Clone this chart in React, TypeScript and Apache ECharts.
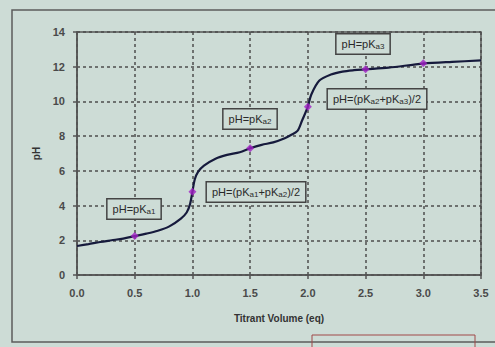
import React, { useEffect, useRef } from "react";
import * as echarts from "echarts";

// Titration curve (volume in eq, pH)
const volume = [0, 0.1, 0.2, 0.3, 0.4, 0.5, 0.6, 0.7, 0.8, 0.9, 0.95, 0.98, 1.0, 1.02, 1.05, 1.1, 1.2, 1.3, 1.41, 1.5, 1.6, 1.7, 1.8, 1.85, 1.91, 1.95, 2.0, 2.03, 2.1, 2.2, 2.3, 2.4, 2.5, 2.7, 3.0, 3.25, 3.5];
const pH = [1.67, 1.78, 1.9, 2.0, 2.1, 2.24, 2.38, 2.55, 2.8, 3.25, 3.6, 4.1, 4.8, 5.5, 5.95, 6.3, 6.7, 6.92, 7.07, 7.3, 7.5, 7.64, 7.88, 8.05, 8.3, 8.9, 9.7, 10.4, 11.2, 11.55, 11.72, 11.8, 11.85, 11.95, 12.18, 12.28, 12.36];

// Marked half-equivalence / equivalence points
const markVolume = [0.5, 1.0, 1.5, 2.0, 2.5, 3.0];
const markPH = [2.24, 4.8, 7.3, 9.7, 11.85, 12.2];

const annotations = [
  "pH=pK{s|a1}",
  "pH=(pK{s|a1}+pK{s|a2})/2",
  "pH=pK{s|a2}",
  "pH=(pK{s|a2}+pK{s|a3})/2",
  "pH=pK{s|a3}",
];
const annotationPos: [number, number][] = [
  [134, 209],
  [256, 192],
  [250, 119],
  [377, 99],
  [363, 44],
];

const xAxisTitle = "Titrant Volume (eq)";
const yAxisTitle = "pH";

export default function App() {
  const ref = useRef<HTMLDivElement>(null);
  useEffect(() => {
    if (!ref.current) return;
    const chart = echarts.init(ref.current, null, { renderer: "svg" });
    const font = "'Liberation Sans', Arial, sans-serif";
    const gridLine = { show: true, lineStyle: { color: "#4e4e4e", type: [3, 3] as any, width: 1.5 } };
    chart.setOption({
      animation: false,
      backgroundColor: "#cddcd6",
      textStyle: { fontFamily: font },
      grid: {
        left: 77,
        right: 14,
        top: 32,
        bottom: 72,
        show: true,
        borderColor: "#555",
        borderWidth: 1.5,
        backgroundColor: "transparent",
      },
      xAxis: {
        type: "value",
        min: 0,
        max: 3.5,
        interval: 0.5,
        name: xAxisTitle,
        nameLocation: "middle",
        nameGap: 38,
        nameTextStyle: { fontSize: 10, fontWeight: "bold", color: "#333", fontFamily: font },
        axisLine: { show: true, lineStyle: { color: "#555", width: 1.5 } },
        axisTick: { show: true, length: 4, lineStyle: { color: "#555", width: 1.5 } },
        axisLabel: {
          formatter: (v: number) => v.toFixed(1),
          fontSize: 11,
          fontWeight: "bold",
          color: "#4a4a4a",
          margin: 12,
          fontFamily: font,
        },
        splitLine: gridLine,
      },
      yAxis: {
        type: "value",
        min: 0,
        max: 14,
        interval: 2,
        name: yAxisTitle,
        nameLocation: "middle",
        nameGap: 32,
        nameRotate: 90,
        nameTextStyle: { fontSize: 10, fontWeight: "bold", color: "#333", fontFamily: font },
        axisLine: { show: true, lineStyle: { color: "#555", width: 1.5 } },
        axisTick: { show: true, length: 4, lineStyle: { color: "#555", width: 1.5 } },
        axisLabel: { fontSize: 11, fontWeight: "bold", color: "#4a4a4a", margin: 12, fontFamily: font },
        splitLine: gridLine,
      },
      series: [
        {
          type: "line",
          data: volume.map((v, i) => [v, pH[i]]),
          smooth: 0.3,
          showSymbol: false,
          lineStyle: { color: "#161a3c", width: 2.2 },
          z: 3,
        },
        {
          type: "scatter",
          data: markVolume.map((v, i) => [v, markPH[i]]),
          symbol: "diamond",
          symbolSize: 8,
          itemStyle: { color: "#a021c4" },
          z: 4,
        },
      ],
      graphic: [
        {
          type: "rect",
          shape: { x: 12, y: 10, width: 500, height: 332 },
          style: { fill: "none", stroke: "#5c5c5c", lineWidth: 1.5 },
          silent: true,
        },
        {
          type: "rect",
          shape: { x: 312, y: 335, width: 163, height: 20 },
          style: { fill: "none", stroke: "#a04848", lineWidth: 1 },
          silent: true,
        },
        ...annotations.map((t, i) => ({
          type: "text",
          x: annotationPos[i][0],
          y: annotationPos[i][1],
          z: 10,
          style: {
            text: t,
            align: "center",
            verticalAlign: "middle",
            fontSize: 11,
            fontFamily: font,
            fill: "#2a2a2a",
            backgroundColor: "#cddcd6",
            borderColor: "#444",
            borderWidth: 1.5,
            padding: [3, 5, 3, 5],
            rich: {
              s: { fontSize: 8, fill: "#2a2a2a", padding: [5, 0, 0, 0], fontFamily: font },
            },
          },
        })),
      ],
    });
    return () => chart.dispose();
  }, []);
  return (
    <div
      ref={ref}
      style={{ position: "fixed", left: 0, top: 0, width: 495, height: 347, background: "#cddcd6" }}
    />
  );
}
